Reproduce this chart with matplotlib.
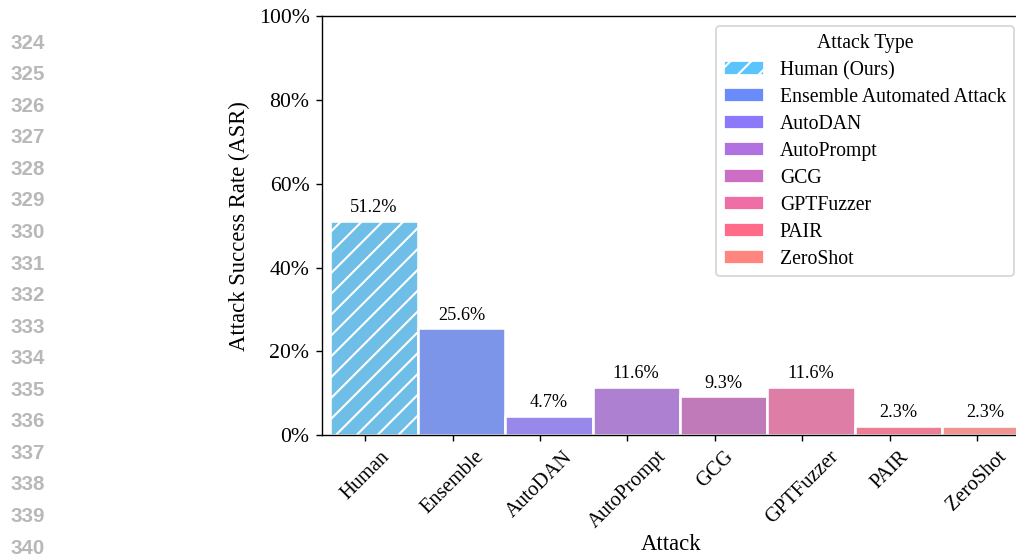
import colorsys

import numpy as np
import matplotlib
matplotlib.use("Agg")
import matplotlib.pyplot as plt
from matplotlib.colors import to_rgb
from matplotlib.patches import Patch
from matplotlib.ticker import PercentFormatter

# Attack success rates (%) per attack method
attacks = ["Human", "Ensemble", "AutoDAN", "AutoPrompt", "GCG", "GPTFuzzer", "PAIR", "ZeroShot"]
attack_types = ["Human (Ours)", "Ensemble Automated Attack", "AutoDAN", "AutoPrompt",
                "GCG", "GPTFuzzer", "PAIR", "ZeroShot"]
asr = [51.2, 25.6, 4.7, 11.6, 9.3, 11.6, 2.3, 2.3]
palette = ["#5BC4FC", "#6A8CFA", "#8C78FA", "#B072E0", "#CC6EC4", "#EE6EA5", "#FF6B88", "#FF857F"]
y_ticks = [0, 20, 40, 60, 80, 100]
line_numbers = list(range(324, 341))


def desaturate(color, prop):
    r, g, b = to_rgb(color)
    h, l, s = colorsys.rgb_to_hls(r, g, b)
    return colorsys.hls_to_rgb(h, l, s * prop)


plt.rcParams["font.family"] = ["Liberation Serif", "DejaVu Serif"]
plt.rcParams["hatch.linewidth"] = 1.2

W, H = 1017, 554
DPI = 125
fig = plt.figure(figsize=(W / DPI, H / DPI), dpi=DPI)
fig.patch.set_facecolor("white")

# margin line numbers
for k, n in enumerate(line_numbers):
    fig.text(10.5 / W, 1 - (43.1 + k * 31.56) / H, str(n), family="Liberation Sans",
             fontweight="bold", color="#b8b8b8", fontsize=11.8, ha="left", va="center")

ax = fig.add_axes([321.6 / W, (H - 435.3) / H, (1020.7 - 321.6) / W, (435.3 - 15.9) / H])

x = np.arange(len(attacks))
bar_colors = [desaturate(c, 0.75) for c in palette]
bars = ax.bar(x + 0.1, asr, width=1.0, color=bar_colors, edgecolor="white", linewidth=1.5)
bars[0].set_hatch("//")

for bar, v in zip(bars, asr):
    ax.annotate(f"{v:.1f}%", (bar.get_x() + bar.get_width() / 2, bar.get_height()),
                xytext=(0, 2.5), textcoords="offset points", ha="center", va="bottom",
                fontsize=10.5)

ax.set_xlim(-0.5, 7.5)
ax.set_ylim(0, 100)
ax.set_yticks(y_ticks)
ax.yaxis.set_major_formatter(PercentFormatter(xmax=100, decimals=0))
ax.set_xticks(x)
ax.set_xticklabels(attacks, rotation=45, ha="center", fontsize=11.8)
ax.tick_params(axis="y", labelsize=12.5)
ax.set_ylabel("Attack Success Rate (ASR)", fontsize=13, labelpad=5)
ax.set_xlabel("Attack", fontsize=13, labelpad=1)

handles = []
for i, (name, c) in enumerate(zip(attack_types, palette)):
    handles.append(Patch(facecolor=c, edgecolor="white", linewidth=1.0,
                         hatch="//" if i == 0 else None, label=name))
ax.legend(handles=handles, title="Attack Type", fontsize=11.4, title_fontsize=11.4,
          loc="upper right", bbox_to_anchor=(1014 / W, 1 - 26 / H),
          bbox_transform=fig.transFigure, borderaxespad=0, labelspacing=0.4)

fig.savefig("out.png", dpi=DPI)
